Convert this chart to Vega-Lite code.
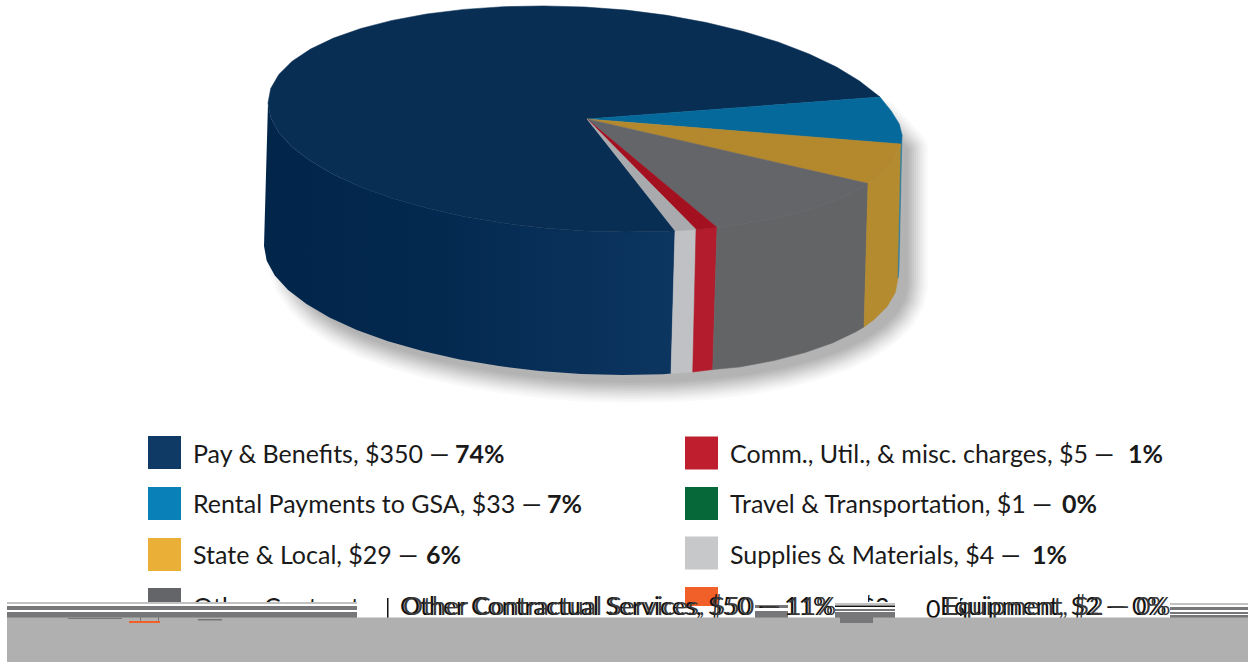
{
"$schema":"https://vega.github.io/schema/vega-lite/v6.json",
"width":1248,"height":662,"padding":0,"autosize":"none","background":"white",
"config":{"view":{"stroke":null},"text":{"font":"Lato"}},
"datasets":{
"faces":[
{"type":"Feature","properties":{"name":"Shadow","face":"shadow"},"geometry":{"type":"Polygon","coordinates":[[[906,150],[880,122],[600,150],[310,200],[288,252],[290,267],[296,281.5],[306,296.1],[320,310.1],[340,323.5],[365,335.9],[396,347.2],[430.5,357],[467.7,365.4],[507,372.1],[547.6,376.9],[589,380],[630.4,381.1],[671,380.3],[710.3,377.6],[747.5,373],[782,366.6],[813.2,358.5],[840.5,348.9],[863.5,337.9],[881.9,325.7],[895.2,312.5],[903.3,298.5],[906,284],[906,150]]]}},
{"type":"Feature","properties":{"name":"Pay & Benefits","face":"wallPay"},"geometry":{"type":"Polygon","coordinates":[[[268,103],[270.7,117.7],[278.8,132.5],[292.1,147.1],[310.5,161.1],[333.5,174.5],[360.8,186.9],[392,198.2],[426.5,208],[463.7,216.4],[503,223.1],[543.6,227.9],[585,231],[626.4,232.1],[667,231.3],[675,230.8],[671,373.6],[663,374.3],[622.4,375.1],[581,374],[539.6,370.9],[499,366.1],[459.7,359.4],[422.5,351],[388,341.2],[356.8,329.9],[329.5,317.5],[306.5,304.1],[288.1,290.1],[274.8,275.5],[266.7,260.7],[264,246],[268,103]]]}},
{"type":"Feature","properties":{"name":"Supplies & Materials","face":"wall"},"geometry":{"type":"Polygon","coordinates":[[[675,230.8],[696,229.6],[692.7,372],[671,373.6],[675,230.8]]]}},
{"type":"Feature","properties":{"name":"Comm., Util., & misc. charges","face":"wall"},"geometry":{"type":"Polygon","coordinates":[[[696,229.6],[717,227.4],[712.7,369.6],[692.7,372],[696,229.6]]]}},
{"type":"Feature","properties":{"name":"Other Contractual Services","face":"wall"},"geometry":{"type":"Polygon","coordinates":[[[717,227.4],[743.5,224],[778,217.6],[809.2,209.5],[836.5,199.9],[859.5,188.9],[868,183.5],[864,327],[855.5,331.9],[832.5,342.9],[805.2,352.5],[774,360.6],[739.5,367],[712.7,369.6],[717,227.4]]]}},
{"type":"Feature","properties":{"name":"State & Local","face":"wall"},"geometry":{"type":"Polygon","coordinates":[[[868,183.5],[877.9,176.7],[891.2,163.5],[899.3,149.5],[901,144],[898,278],[895.3,292.5],[887.2,306.5],[873.9,319.7],[864,327],[868,183.5]]]}},
{"type":"Feature","properties":{"name":"Rental Payments to GSA","face":"wall"},"geometry":{"type":"Polygon","coordinates":[[[901,144],[902,135],[899,270],[898,278],[901,144]]]}},
{"type":"Feature","properties":{"name":"Pay & Benefits","face":"top"},"geometry":{"type":"Polygon","coordinates":[[[587,119],[675,230.8],[667,231.3],[626.4,232.1],[585,231],[543.6,227.9],[503,223.1],[463.7,216.4],[426.5,208],[392,198.2],[360.8,186.9],[333.5,174.5],[310.5,161.1],[292.1,147.1],[278.8,132.5],[270.7,117.7],[268,103],[270.7,88.5],[278.8,74.5],[292.1,61.3],[310.5,49.1],[333.5,38.1],[360.8,28.5],[392,20.4],[426.5,14],[463.7,9.4],[503,6.7],[543.6,5.9],[585,7],[626.4,10.1],[667,15.3],[706.3,22.5],[743.5,31.5],[778,42],[809.2,54],[836.5,67],[859.5,81],[880,97],[587,119]]]}},
{"type":"Feature","properties":{"name":"Rental Payments to GSA","face":"top"},"geometry":{"type":"Polygon","coordinates":[[[587,119],[880,97],[891.2,111],[899.3,124],[902,135],[901,144],[587,119]]]}},
{"type":"Feature","properties":{"name":"State & Local","face":"top"},"geometry":{"type":"Polygon","coordinates":[[[587,119],[901,144],[899.3,149.5],[891.2,163.5],[877.9,176.7],[868,183.5],[587,119]]]}},
{"type":"Feature","properties":{"name":"Other Contractual Services","face":"top"},"geometry":{"type":"Polygon","coordinates":[[[587,119],[868,183.5],[859.5,188.9],[836.5,199.9],[809.2,209.5],[778,217.6],[743.5,224],[717,227.4],[587,119]]]}},
{"type":"Feature","properties":{"name":"Comm., Util., & misc. charges","face":"top"},"geometry":{"type":"Polygon","coordinates":[[[587,119],[717,227.4],[696,229.6],[587,119]]]}},
{"type":"Feature","properties":{"name":"Supplies & Materials","face":"top"},"geometry":{"type":"Polygon","coordinates":[[[587,119],[696,229.6],[675,230.8],[587,119]]]}}
],
"legend":[
{"name":"Pay & Benefits","label":"Pay & Benefits, $350 —","share":"74%","keyX":164.5,"textX":193,"boldX":455,"rowY":452.5,"baseY":463},
{"name":"Rental Payments to GSA","label":"Rental Payments to GSA, $33 —","share":"7%","keyX":164.5,"textX":193,"boldX":547,"rowY":503.5,"baseY":513},
{"name":"State & Local","label":"State & Local, $29 —","share":"6%","keyX":164.5,"textX":193,"boldX":426,"rowY":554.5,"baseY":564},
{"name":"Other Contractual Services","label":"Other Contractual Services, $50 —","share":"11%","keyX":164.5,"textX":193,"boldX":600,"rowY":604.5,"baseY":616},
{"name":"Comm., Util., & misc. charges","label":"Comm., Util., & misc. charges, $5 —","share":"1%","keyX":701.5,"textX":730,"boldX":1128,"rowY":453,"baseY":463},
{"name":"Travel & Transportation","label":"Travel & Transportation, $1 —","share":"0%","keyX":701.5,"textX":730,"boldX":1062,"rowY":503.5,"baseY":513},
{"name":"Supplies & Materials","label":"Supplies & Materials, $4 —","share":"1%","keyX":701.5,"textX":730,"boldX":1032,"rowY":553,"baseY":564},
{"name":"Equipment","label":"Equipment, $2 —","share":"0%","keyX":701.5,"textX":730,"boldX":930,"rowY":603.5,"baseY":616}
],
"strips":[
{"stage":1,"tone":"white","x":357,"x2":868,"y":590,"y2":619},
{"stage":1,"tone":"white","x":895,"x2":960,"y":590,"y2":619},
{"stage":1,"tone":"white","x":868,"x2":895,"y":602,"y2":619},
{"stage":2,"tone":"white","x":7,"x2":357,"y":602,"y2":619},
{"stage":2,"tone":"white","x":685,"x2":718,"y":606,"y2":619},
{"stage":2,"tone":"light","x":7,"x2":357,"y":602,"y2":604},
{"stage":2,"tone":"dark","x":7,"x2":357,"y":606,"y2":610},
{"stage":2,"tone":"dark","x":7,"x2":357,"y":612,"y2":618},
{"stage":2,"tone":"ink","x":387,"x2":388.5,"y":598,"y2":618},
{"stage":2,"tone":"dark","x":755,"x2":788,"y":605,"y2":608},
{"stage":2,"tone":"dark","x":755,"x2":788,"y":611,"y2":618},
{"stage":2,"tone":"light","x":835,"x2":895,"y":603,"y2":605},
{"stage":2,"tone":"ink","x":835,"x2":895,"y":605.5,"y2":607},
{"stage":2,"tone":"dark","x":835,"x2":895,"y":609,"y2":611},
{"stage":2,"tone":"dark","x":835,"x2":895,"y":612,"y2":618},
{"stage":2,"tone":"light","x":1170,"x2":1248,"y":603,"y2":605},
{"stage":2,"tone":"dark","x":1170,"x2":1248,"y":607,"y2":610},
{"stage":2,"tone":"dark","x":1170,"x2":1248,"y":612,"y2":614},
{"stage":2,"tone":"dark","x":1170,"x2":1248,"y":615,"y2":618},
{"stage":3,"tone":"ground","x":7,"x2":1248,"y":617.5,"y2":662},
{"stage":3,"tone":"dark","x":840,"x2":873,"y":617,"y2":623},
{"stage":3,"tone":"dark","x":68,"x2":122,"y":618,"y2":619},
{"stage":3,"tone":"dark","x":198,"x2":222,"y":619,"y2":620.5},
{"stage":3,"tone":"orange","x":129,"x2":160,"y":621,"y2":623},
{"stage":3,"tone":"dark","x":140,"x2":141,"y":617,"y2":621},
{"stage":3,"tone":"dark","x":158,"x2":159,"y":617,"y2":621}
],
"overprint":[
{"text":"Other Contractual Services, $50 — 11%","x":400,"y":615,"tone":"a"},
{"text":"Other Contractual Services, $50 — 11%","x":403,"y":615,"tone":"b"},
{"text":"Equipment, $2 — 0%","x":940,"y":615,"tone":"a"},
{"text":"Equipment, $2 — 0%","x":944,"y":615,"tone":"b"},
{"text":"0","x":926,"y":618,"tone":"a"}
]
},
"layer":[
{"data":{"name":"faces"},"transform":[{"filter":"datum.properties.face==='shadow'"}],"projection":{"type":"identity","scale":1,"translate":[0,0]},"mark":{"type":"geoshape","fill":"#000","stroke":"#000","strokeWidth":44,"strokeJoin":"round","opacity":0.014}},
{"data":{"name":"faces"},"transform":[{"filter":"datum.properties.face==='shadow'"}],"projection":{"type":"identity","scale":1,"translate":[0,0]},"mark":{"type":"geoshape","fill":"#000","stroke":"#000","strokeWidth":40,"strokeJoin":"round","opacity":0.017}},
{"data":{"name":"faces"},"transform":[{"filter":"datum.properties.face==='shadow'"}],"projection":{"type":"identity","scale":1,"translate":[0,0]},"mark":{"type":"geoshape","fill":"#000","stroke":"#000","strokeWidth":36,"strokeJoin":"round","opacity":0.02}},
{"data":{"name":"faces"},"transform":[{"filter":"datum.properties.face==='shadow'"}],"projection":{"type":"identity","scale":1,"translate":[0,0]},"mark":{"type":"geoshape","fill":"#000","stroke":"#000","strokeWidth":32,"strokeJoin":"round","opacity":0.022}},
{"data":{"name":"faces"},"transform":[{"filter":"datum.properties.face==='shadow'"}],"projection":{"type":"identity","scale":1,"translate":[0,0]},"mark":{"type":"geoshape","fill":"#000","stroke":"#000","strokeWidth":28,"strokeJoin":"round","opacity":0.025}},
{"data":{"name":"faces"},"transform":[{"filter":"datum.properties.face==='shadow'"}],"projection":{"type":"identity","scale":1,"translate":[0,0]},"mark":{"type":"geoshape","fill":"#000","stroke":"#000","strokeWidth":24,"strokeJoin":"round","opacity":0.028}},
{"data":{"name":"faces"},"transform":[{"filter":"datum.properties.face==='shadow'"}],"projection":{"type":"identity","scale":1,"translate":[0,0]},"mark":{"type":"geoshape","fill":"#000","stroke":"#000","strokeWidth":20,"strokeJoin":"round","opacity":0.03}},
{"data":{"name":"faces"},"transform":[{"filter":"datum.properties.face==='shadow'"}],"projection":{"type":"identity","scale":1,"translate":[0,0]},"mark":{"type":"geoshape","fill":"#000","stroke":"#000","strokeWidth":16,"strokeJoin":"round","opacity":0.03}},
{"data":{"name":"faces"},"transform":[{"filter":"datum.properties.face==='shadow'"}],"projection":{"type":"identity","scale":1,"translate":[0,0]},"mark":{"type":"geoshape","fill":"#000","stroke":"#000","strokeWidth":12,"strokeJoin":"round","opacity":0.03}},
{"data":{"name":"faces"},"transform":[{"filter":"datum.properties.face==='shadow'"}],"projection":{"type":"identity","scale":1,"translate":[0,0]},"mark":{"type":"geoshape","fill":"#000","stroke":"#000","strokeWidth":8,"strokeJoin":"round","opacity":0.03}},
{"data":{"name":"faces"},"transform":[{"filter":"datum.properties.face==='shadow'"}],"projection":{"type":"identity","scale":1,"translate":[0,0]},"mark":{"type":"geoshape","fill":"#000","stroke":"#000","strokeWidth":4,"strokeJoin":"round","opacity":0.03}},
{"data":{"name":"faces"},"transform":[{"filter":"datum.properties.face==='wallPay'"}],"projection":{"type":"identity","scale":1,"translate":[0,0]},"mark":{"type":"geoshape","strokeWidth":0,"fill":{"gradient":"linear","x1":0,"x2":1,"y1":0,"y2":0,"stops":[{"offset":0,"color":"#02254a"},{"offset":0.35,"color":"#03284e"},{"offset":1,"color":"#0c3560"}]}}},
{"data":{"name":"faces"},"transform":[{"filter":"datum.properties.face==='wall'"}],"projection":{"type":"identity","scale":1,"translate":[0,0]},"mark":{"type":"geoshape","strokeWidth":0.5},"encoding":{
"fill":{"field":"properties.name","type":"nominal","legend":null,"scale":{"domain":["Supplies & Materials","Comm., Util., & misc. charges","Other Contractual Services","State & Local","Rental Payments to GSA"],"range":["#c0c1c4","#b21c2c","#636466","#b58b2f","#2f7f9e"]}},
"stroke":{"field":"properties.name","type":"nominal","legend":null,"scale":{"domain":["Supplies & Materials","Comm., Util., & misc. charges","Other Contractual Services","State & Local","Rental Payments to GSA"],"range":["#c0c1c4","#b21c2c","#636466","#b58b2f","#2f7f9e"]}}}},
{"data":{"name":"faces"},"transform":[{"filter":"datum.properties.face==='top'"}],"projection":{"type":"identity","scale":1,"translate":[0,0]},"mark":{"type":"geoshape","strokeWidth":0.5},"encoding":{
"fill":{"field":"properties.name","type":"nominal","legend":null,"scale":{"domain":["Pay & Benefits","Rental Payments to GSA","State & Local","Other Contractual Services","Comm., Util., & misc. charges","Supplies & Materials"],"range":["#092e54","#06699b","#b4892e","#646568","#a31020","#a9aaad"]}},
"stroke":{"field":"properties.name","type":"nominal","legend":null,"scale":{"domain":["Pay & Benefits","Rental Payments to GSA","State & Local","Other Contractual Services","Comm., Util., & misc. charges","Supplies & Materials"],"range":["#092e54","#06699b","#b4892e","#646568","#a31020","#a9aaad"]}}}},
{"data":{"name":"legend"},"mark":{"type":"text","align":"left","baseline":"alphabetic","font":"Lato","fontSize":25,"color":"#1a1a1a"},"encoding":{
"x":{"field":"textX","type":"quantitative","axis":null,"scale":{"domain":[0,1248],"nice":false,"zero":false}},
"y":{"field":"baseY","type":"quantitative","axis":null,"scale":{"domain":[662,0],"nice":false,"zero":false}},
"text":{"field":"label"}}},
{"data":{"name":"legend"},"mark":{"type":"text","align":"left","baseline":"alphabetic","font":"Lato","fontSize":25,"fontWeight":"bold","color":"#1a1a1a"},"encoding":{
"x":{"field":"boldX","type":"quantitative"},
"y":{"field":"baseY","type":"quantitative"},
"text":{"field":"share"}}},
{"data":{"name":"strips"},"transform":[{"filter":"datum.stage===1"}],"mark":{"type":"rect"},"encoding":{
"x":{"field":"x","type":"quantitative"},"x2":{"field":"x2"},"y":{"field":"y","type":"quantitative"},"y2":{"field":"y2"},
"color":{"field":"tone","type":"nominal","legend":null,"scale":{"domain":["white","light","dark","ink","ground","orange"],"range":["#ffffff","#c2c2c2","#777779","#111111","#b0b0b0","#f26029"]}}}},
{"data":{"name":"legend"},"mark":{"type":"point","shape":"square","filled":true,"size":1089,"opacity":1},"encoding":{
"x":{"field":"keyX","type":"quantitative"},
"y":{"field":"rowY","type":"quantitative"},
"color":{"field":"name","type":"nominal","legend":null,"scale":{"domain":["Pay & Benefits","Rental Payments to GSA","State & Local","Other Contractual Services","Comm., Util., & misc. charges","Travel & Transportation","Supplies & Materials","Equipment"],"range":["#103a66","#0a80b8","#e9af37","#646568","#be1e2d","#066838","#c7c8ca","#f26029"]}}}},
{"data":{"name":"strips"},"transform":[{"filter":"datum.stage===2"}],"mark":{"type":"rect"},"encoding":{
"x":{"field":"x","type":"quantitative"},"x2":{"field":"x2"},"y":{"field":"y","type":"quantitative"},"y2":{"field":"y2"},
"color":{"field":"tone","type":"nominal","legend":null,"scale":{"domain":["white","light","dark","ink","ground","orange"],"range":["#ffffff","#c2c2c2","#777779","#111111","#b0b0b0","#f26029"]}}}},
{"data":{"name":"overprint"},"mark":{"type":"text","align":"left","baseline":"alphabetic","font":"Lato","fontSize":25},"encoding":{
"x":{"field":"x","type":"quantitative"},
"y":{"field":"y","type":"quantitative"},
"text":{"field":"text"},
"color":{"field":"tone","type":"nominal","legend":null,"scale":{"domain":["a","b"],"range":["#111111","#3a3a3a"]}}}},
{"data":{"name":"strips"},"transform":[{"filter":"datum.stage===3"}],"mark":{"type":"rect"},"encoding":{
"x":{"field":"x","type":"quantitative"},"x2":{"field":"x2"},"y":{"field":"y","type":"quantitative"},"y2":{"field":"y2"},
"color":{"field":"tone","type":"nominal","legend":null,"scale":{"domain":["white","light","dark","ink","ground","orange"],"range":["#ffffff","#c2c2c2","#777779","#111111","#b0b0b0","#f26029"]}}}}
],
"resolve":{"scale":{"color":"independent","fill":"independent","stroke":"independent"}}
}
